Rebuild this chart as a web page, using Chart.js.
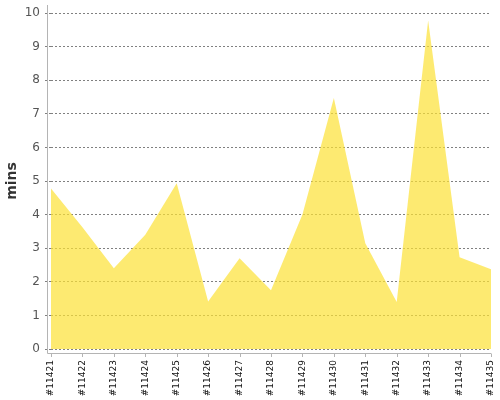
<!DOCTYPE html>
<html>
<head>
<meta charset="utf-8">
<script src="https://cdn.jsdelivr.net/npm/chart.js@4"></script>
<style>
  html, body { margin: 0; padding: 0; background: #fff; }
  #wrap { width: 500px; height: 400px; }
</style>
</head>
<body>
<div id="wrap"><canvas id="chart"></canvas></div>
<script>
// build ids and wait times (minutes)
const builds = ['#11421', '#11422', '#11423', '#11424', '#11425', '#11426', '#11427', '#11428',
    '#11429', '#11430', '#11431', '#11432', '#11433', '#11434', '#11435'];
const mins = [4.78, 3.62, 2.4, 3.4, 4.93, 1.41, 2.7, 1.75, 4.0, 7.47, 3.15, 1.4, 9.78, 2.73, 2.37];
const yTicks = [0, 1, 2, 3, 4, 5, 6, 7, 8, 9, 10];

Chart.defaults.font.family = "'DejaVu Sans', sans-serif";
Chart.defaults.color = '#555';

// axis lines sit a few px off the plot area, so draw them by hand
const axisLines = {
    id: 'axisLines',
    afterDraw(chart) {
        const { ctx, chartArea: a, scales: { x } } = chart;
        ctx.save();
        ctx.strokeStyle = '#b4b4b4';
        ctx.lineWidth = 1;
        ctx.beginPath();
        ctx.moveTo(a.left - 3.5, 5);
        ctx.lineTo(a.left - 3.5, a.bottom + 4.5);
        ctx.lineTo(a.right, a.bottom + 4.5);
        builds.forEach((_, i) => {
            const px = Math.round(x.getPixelForValue(i)) + 0.5;
            ctx.moveTo(px, a.bottom + 4.5);
            ctx.lineTo(px, a.bottom + 8);
        });
        ctx.stroke();
        ctx.restore();
    }
};

new Chart(document.getElementById('chart'), {
    type: 'line',
    data: {
        labels: builds,
        datasets: [{
            data: mins,
            fill: 'origin',
            backgroundColor: 'rgba(252, 225, 52, 0.7)',
            borderWidth: 0,
            pointRadius: 0,
            tension: 0
        }]
    },
    options: {
        responsive: true,
        maintainAspectRatio: false,
        animation: false,
        layout: { padding: { top: 13, right: 9, left: 0, bottom: 0 } },
        plugins: {
            legend: { display: false },
            tooltip: { enabled: false }
        },
        scales: {
            x: {
                offset: false,
                grid: { display: false },
                border: { display: false },
                ticks: {
                    autoSkip: false,
                    maxRotation: 90,
                    minRotation: 90,
                    padding: 3,
                    color: '#111',
                    font: { size: 9 }
                },
                afterFit(scale) {
                    scale.height = 51;
                    scale.paddingLeft = 0;
                    scale.paddingRight = 0;
                }
            },
            y: {
                min: 0,
                max: 10,
                afterBuildTicks(scale) { scale.ticks = yTicks.map(v => ({ value: v })); },
                grid: {
                    color: '#808080',
                    tickColor: '#808080',
                    tickLength: 6,
                    tickBorderDash: [2, 2],
                    lineWidth: 1
                },
                border: { display: false, dash: [2, 2] },
                ticks: {
                    padding: 5,
                    color: '#555',
                    font: { size: 12 }
                },
                title: {
                    display: true,
                    text: 'mins',
                    color: '#333',
                    font: { size: 14, weight: 'bold' },
                    padding: { top: 4, bottom: 0 }
                },
                afterFit(scale) { scale.width = 51; }
            }
        }
    },
    plugins: [axisLines]
});
</script>
</body>
</html>
